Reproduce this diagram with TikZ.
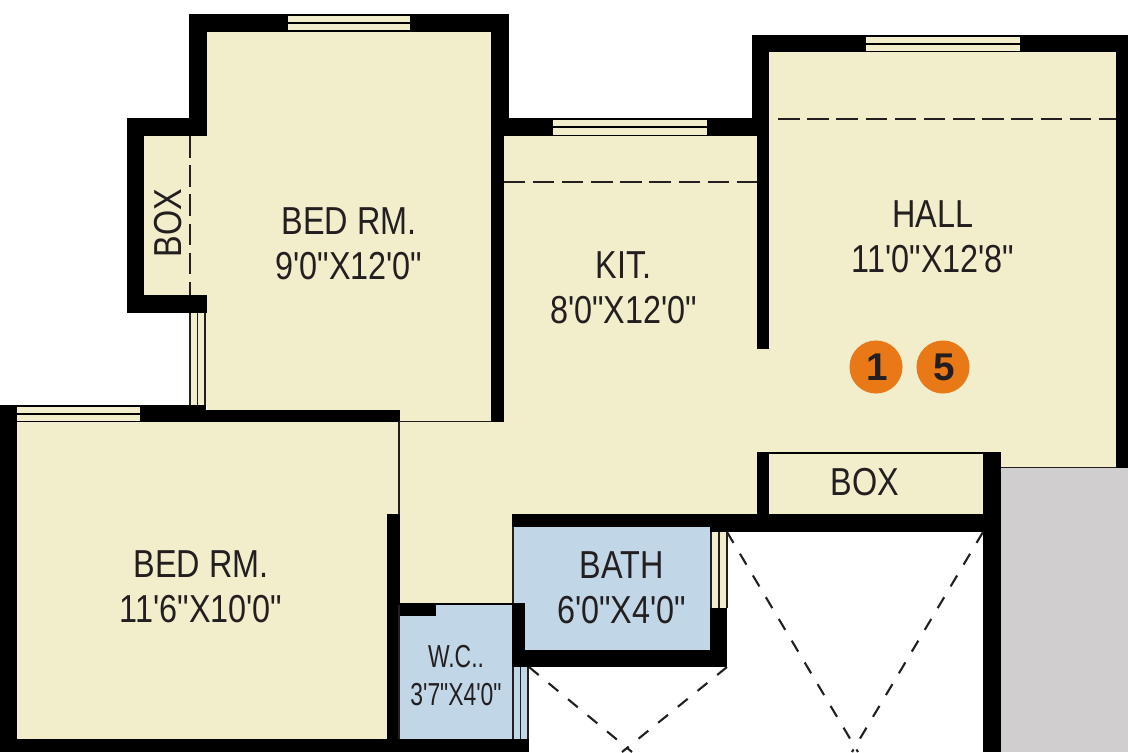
\documentclass[tikz,border=0pt]{standalone}
\usepackage{fontspec}
\setmainfont{Liberation Sans}
\newfontfamily\roomfont[FakeStretch=0.83]{Liberation Sans}
\newfontfamily\wcfont[FakeStretch=0.72]{Liberation Sans}
\definecolor{planCream}{HTML}{F2EDCB}
\definecolor{planBlue}{HTML}{C1D6E6}
\definecolor{planGray}{HTML}{D0CECF}
\definecolor{planOrange}{HTML}{E97817}
\definecolor{planInk}{HTML}{231F20}
\newcommand{\badgedigit}[1]{\hspace{1.7pt}\raisebox{-1pt}{#1}}
\tikzset{
   floorcream/.style={fill=planCream},
   floorblue/.style={fill=planBlue},
   wall/.style={fill=black},
   thinline/.style={draw=planInk,line width=0.6pt},
   foldline/.style={draw=planInk,line width=1pt,dash pattern=on 12.3pt off 4.3pt},
   ductline/.style={draw=planInk,line width=1.2pt,dash pattern=on 7.2pt off 7.2pt},
   roomlabel/.style={text=planInk,align=center,inner sep=0pt,font=\roomfont\fontsize{22.2}{25.5}\selectfont},
   badge/.style={circle,fill=planOrange,minimum size=30.2pt,inner sep=0pt,text=planInk,font=\bfseries\fontsize{22}{24}\selectfont}
}
\begin{document}
\begin{tikzpicture}[x=0.02cm,y=-0.02cm]
   \useasboundingbox (0,0) rectangle (1128,752);

   % floors
   \fill[floorcream] (207,32) rectangle (491,422);
   \fill[floorcream] (144,136) rectangle (207,295);
   \fill[floorcream] (17,422) rectangle (399,740);
   \fill[floorcream] (399,422) rectangle (513,605);
   \fill[floorcream] (503,136) rectangle (757,514);
   \fill[floorcream] (769,52) rectangle (1116,468);
   \fill[floorcream] (757,349) rectangle (769,452);
   \fill[floorblue] (513,527) rectangle (710,650);
   \fill[floorblue] (399,605) rectangle (513,740);
   \fill[planGray] (1001,468) rectangle (1128,752);

   % walls
   \fill[wall] (189,14) rectangle (509,32);
   \fill[wall] (189,14) rectangle (207,136);
   \fill[wall] (127,118) rectangle (207,136);
   \fill[wall] (127,118) rectangle (144,313);
   \fill[wall] (127,295) rectangle (207,313);
   \fill[wall] (491,14) rectangle (509,118);
   \fill[wall] (491,118) rectangle (503.5,422);
   \fill[wall] (491,118) rectangle (769,136);
   \fill[wall] (752,35) rectangle (1128,52);
   \fill[wall] (752,35) rectangle (769,136);
   \fill[wall] (757,136) rectangle (769,349);
   \fill[wall] (1116,35) rectangle (1128,468);
   \fill[wall] (0,405) rectangle (17,752);
   \fill[wall] (0,405) rectangle (206,422);
   \fill[wall] (206,410) rectangle (399.5,422);
   \fill[wall] (387,514) rectangle (399.5,752);
   \fill[wall] (0,739) rectangle (529,752);
   \fill[wall] (399,603) rectangle (436,616);
   \fill[wall] (436,603) rectangle (512,605);
   \fill[wall] (512,514) rectangle (1001,527);
   \fill[wall] (710,514) rectangle (1001,532);
   \fill[wall] (757,452) rectangle (769,514);
   \fill[wall] (757,452) rectangle (1001,454);
   \fill[wall] (983,452) rectangle (1001,752);
   \fill[wall] (512,603) rectangle (525,667);
   \fill[wall] (512,650) rectangle (727,667);
   \fill[wall] (710,608) rectangle (727,667);
   \fill[floorcream] (769,454) rectangle (983,514);

   % windows
   \fill[floorcream] (288,16) rectangle (410,30);
   \fill[wall] (288,22) rectangle (410,24);
   \fill[floorcream] (866,37) rectangle (1020,51);
   \fill[wall] (866,43) rectangle (1020,44.7);
   \fill[floorcream] (553,120) rectangle (707,135);
   \fill[wall] (553,126) rectangle (707,128);
   \fill[floorcream] (17,407) rectangle (140,421);
   \fill[wall] (17,413) rectangle (140,414.7);
   \fill[floorcream] (190,313) rectangle (207,405);
   \draw[thinline] (190,313) -- (190,405);
   \draw[thinline] (197.5,313) -- (197.5,405);
   \draw[thinline] (205,313) -- (205,405);
   \fill[floorcream] (711,532) rectangle (727,608);
   \draw[thinline] (711,532) -- (711,608);
   \draw[thinline] (719,532) -- (719,608);
   \draw[thinline] (727,532) -- (727,608);
   \fill[floorblue] (513,667) rectangle (528,739);
   \draw[thinline] (513,667) -- (513,739);
   \draw[thinline] (520.5,667) -- (520.5,739);
   \draw[thinline] (528,667) -- (528,739);

   % thin partitions
   \draw[thinline] (399,422) -- (399,514);
   \draw[thinline] (399,421.5) -- (491,421.5);
   \draw[thinline] (513,527) -- (513,603);
   \draw[thinline] (399,605) -- (399,739);
   \draw[thinline] (1001,467.5) -- (1116,467.5);

   % fold and duct lines
   \draw[foldline] (778,119) -- (1116,119);
   \draw[foldline] (503.5,182) -- (757,182);
   \draw[foldline] (190,136) -- (190,295);
   \draw[ductline] (727,532) -- (858,752);
   \draw[ductline] (983,532) -- (852,752);
   \draw[ductline] (529,667) -- (632,752);
   \draw[ductline] (727,667) -- (622,752);

   % labels
   \node[roomlabel] at (349,243.5) (bedone) {BED RM.\\9'0"X12'0"};
   \node[roomlabel] at (933,236.5) (hall) {HALL\\11'0"X12'8"};
   \node[roomlabel] at (623.5,287.5) (kit) {KIT.\\8'0"X12'0"};
   \node[roomlabel] at (201,586.5) (bedtwo) {BED RM.\\11'6"X10'0"};
   \node[roomlabel] at (621.5,588) (bath) {BATH\\6'0"X4'0"};
   \node[roomlabel,font=\wcfont\fontsize{18.1}{22.1}\selectfont] at (456,675.5) (wc) {W.C..\\3'7"X4'0"};
   \node[roomlabel] at (865,482.5) (boxhall) {BOX};
   \node[roomlabel,rotate=90] at (168,223) (boxbed) {BOX};

   \node[badge] at (876,367) (one) {\badgedigit{1}};
   \node[badge] at (943,367) (five) {\badgedigit{5}};
\end{tikzpicture}
\end{document}
